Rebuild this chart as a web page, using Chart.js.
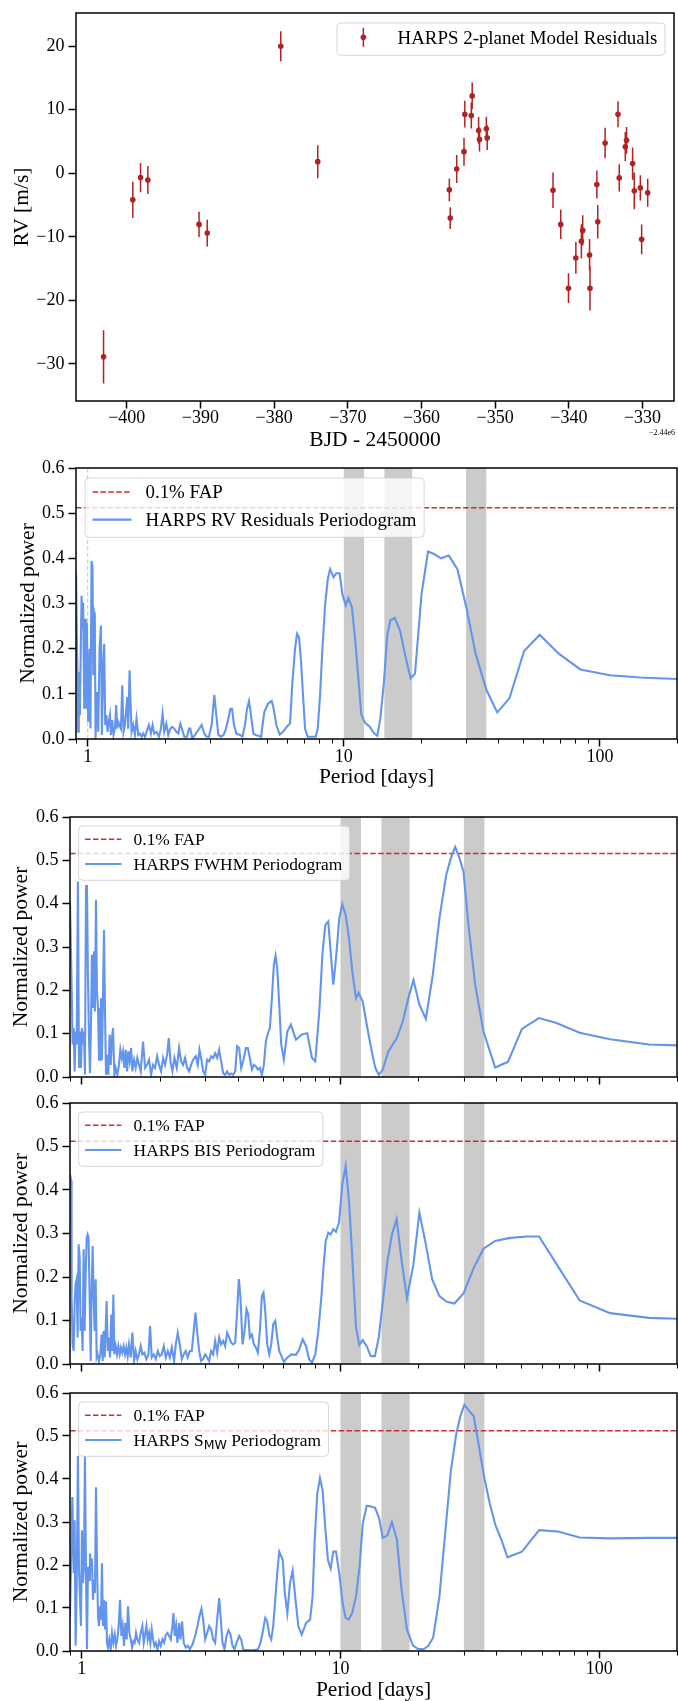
<!DOCTYPE html>
<html><head><meta charset="utf-8">
<script src="https://cdn.jsdelivr.net/npm/chart.js@4.4.0/dist/chart.umd.min.js"></script>
<style>
html,body{margin:0;padding:0;background:#fff;}
body{width:678px;height:1701px;position:relative;overflow:hidden;}
canvas{position:absolute;left:0;}
</style></head><body>
<canvas id="c1" width="678" height="460" style="top:0px;width:678px;height:460px"></canvas>
<canvas id="c2" width="678" height="335" style="top:455px;width:678px;height:335px"></canvas>
<canvas id="c3" width="678" height="290" style="top:800px;width:678px;height:290px"></canvas>
<canvas id="c4" width="678" height="290" style="top:1090px;width:678px;height:290px"></canvas>
<canvas id="c5" width="678" height="321" style="top:1380px;width:678px;height:321px"></canvas>
<script>
// ---------------- DATA ----------------
// Panel 1: HARPS 2-planet model residuals
const bjd = [-403.15,-399.18,-398.13,-397.14,-390.19,-389.08,-379.10,-374.08,-356.22,-356.10,-355.22,-354.23,-354.12,-353.24,-353.12,-352.25,-352.13,-351.20,-351.08,-342.15,-341.10,-340.05,-339.05,-338.30,-338.12,-337.19,-337.13,-336.20,-336.08,-335.08,-333.33,-333.16,-332.34,-332.17,-331.35,-331.12,-330.30,-330.12,-329.30];
const rvResid = [-28.9,-4.18,-0.68,-1.05,-8.05,-9.41,20.0,1.83,-2.61,-7.06,0.68,3.40,9.30,9.10,12.18,6.74,5.33,7.00,5.60,-2.67,-8.05,-18.09,-13.33,-10.72,-8.99,-12.86,-18.09,-1.78,-7.63,4.76,9.30,-0.73,4.18,5.18,1.52,-2.77,-2.30,-10.40,-3.08];
const rvErr = [4.2,2.85,2.3,2.2,2.0,2.1,2.35,2.6,1.8,1.7,2.2,2.2,2.1,2.05,2.1,2.1,1.9,1.9,1.95,2.8,2.3,2.35,2.5,2.7,2.4,2.5,3.5,2.2,2.65,2.4,2.05,2.15,2.3,2.1,2.55,2.9,2.0,2.35,2.2];
const bjdTicks = [-400,-390,-380,-370,-360,-350,-340,-330];
const bjdTickLabels = ['\u2212400','\u2212390','\u2212380','\u2212370','\u2212360','\u2212350','\u2212340','\u2212330'];
const rvTicks = [-30,-20,-10,0,10,20];
const rvTickLabels = ['\u221230','\u221220','\u221210','0','10','20'];
const bjdRange = [-406.89, -325.73];
const rvRange = [-35.85, 25.23];

// Periodogram common
const periodTicks = [1, 10, 100];
const periodTickLabels = ['1', '10', '100'];
const powerTicks = [0, 0.1, 0.2, 0.3, 0.4, 0.5, 0.6];
const powerTickLabels = ['0.0','0.1','0.2','0.3','0.4','0.5','0.6'];
const periodRange = [0.9, 200];
const activityBands = [[10, 12], [14.4, 18.5], [30, 36]];
const fapLevels = {rv: 0.512, fwhm: 0.516, bis: 0.512, smw: 0.512};

// RV residuals periodogram
const rvPeriod = [0.900,0.912,0.918,0.923,0.932,0.946,0.954,0.960,0.969,0.977,
0.983,0.992,0.998,1.004,1.016,1.025,1.035,1.044,1.051,1.060,
1.066,1.073,1.086,1.099,1.112,1.126,1.136,1.150,1.160,1.170,
1.184,1.195,1.209,1.221,1.231,1.246,1.261,1.277,1.292,1.304,
1.316,1.331,1.348,1.364,1.380,1.397,1.414,1.426,1.439,1.457,
1.470,1.483,1.505,1.528,1.551,1.575,1.599,1.623,1.647,1.673,
1.698,1.734,1.766,1.792,1.819,1.858,1.897,1.931,1.960,1.990,
2.027,2.063,2.101,2.139,2.178,2.218,2.258,2.299,2.341,2.383,
2.441,2.485,2.515,2.561,2.623,2.703,2.785,2.853,2.913,2.975,
3.047,3.121,3.178,3.236,3.314,3.395,3.467,3.540,3.605,3.659,
3.726,3.805,3.932,4.016,4.113,4.188,4.264,4.342,4.434,4.528,
4.638,4.750,4.895,5.074,5.228,5.323,5.452,5.619,5.790,5.985,
6.167,6.298,6.451,6.568,6.687,6.808,6.931,7.058,7.229,7.494,
7.769,7.910,8.078,8.249,8.449,8.656,8.841,9.12,9.34,9.63,
9.87,10.17,10.41,10.75,11.08,11.44,11.70,12.13,12.60,13.10,
13.52,13.89,14.33,14.78,15.20,15.80,16.56,17.41,18.24,18.97,
20.11,21.32,22.61,23.95,25.69,27.78,30.26,32.70,36.03,39.72,
44.33,50.58,58.18,69.08,83.9,109.3,143.6,200];
const rvPower = [0.368,0.134,0.016,0.148,0.053,0.317,0.244,0.302,0.067,0.266,
0.067,0.258,0.134,0.038,0.200,0.023,0.394,0.383,0.141,0.280,
0.273,0.001,0.104,0.016,0.200,0.251,0.009,0.170,0.211,0.031,
0.053,0.016,0.038,0.053,0.009,0.042,0.009,0.023,0.075,0.023,
0.038,0.031,0.023,0.119,0.016,0.031,0.067,0.093,0.023,0.152,
0.082,0.016,0.031,0.009,0.045,0.009,0.012,0.005,0.012,0.005,
0.016,0.031,0.012,0.031,0.012,0.016,0.005,0.023,0.056,0.016,
0.034,0.009,0.023,0.027,0.023,0.016,0.012,0.034,0.020,0.005,
0.005,0.023,0.023,0.001,0.009,0.020,0.031,0.012,0.005,0.005,
0.031,0.098,0.053,0.009,0.005,0.009,0.023,0.045,0.067,0.067,
0.031,0.012,0.009,0.005,0.031,0.067,0.084,0.053,0.012,0.009,
0.007,0.005,0.060,0.079,0.084,0.067,0.031,0.010,0.016,0.027,
0.034,0.126,0.200,0.233,0.225,0.170,0.097,0.023,0.005,0.005,
0.005,0.023,0.097,0.200,0.295,0.354,0.376,0.358,0.367,0.367,
0.321,0.296,0.312,0.292,0.219,0.123,0.054,0.035,0.028,0.013,
0.007,0.046,0.123,0.230,0.263,0.268,0.241,0.182,0.134,0.145,
0.321,0.415,0.409,0.400,0.406,0.376,0.285,0.189,0.109,0.059,
0.090,0.195,0.231,0.189,0.154,0.141,0.136,0.133];

// FWHM periodogram
const fwhmPeriod = [0.900,0.913,0.921,0.930,0.938,0.946,0.955,0.966,0.975,0.984,
0.992,1.001,1.010,1.019,1.028,1.038,1.047,1.056,1.066,1.075,
1.085,1.094,1.104,1.114,1.124,1.134,1.144,1.155,1.165,1.176,
1.186,1.196,1.207,1.218,1.229,1.240,1.255,1.266,1.281,1.293,
1.308,1.320,1.336,1.352,1.372,1.392,1.409,1.426,1.443,1.460,
1.478,1.496,1.513,1.531,1.550,1.568,1.592,1.615,1.639,1.664,
1.689,1.724,1.756,1.787,1.820,1.852,1.885,1.919,1.954,1.989,
2.025,2.061,2.098,2.136,2.168,2.200,2.240,2.280,2.328,2.377,
2.420,2.463,2.508,2.553,2.599,2.646,2.693,2.758,2.808,2.850,
2.892,2.944,2.997,3.051,3.106,3.162,3.219,3.277,3.336,3.396,
3.456,3.519,3.582,3.646,3.712,3.779,3.847,3.916,3.986,4.058,
4.131,4.218,4.306,4.384,4.463,4.543,4.625,4.708,4.792,4.879,
4.967,5.056,5.147,5.240,5.333,5.430,5.527,5.610,5.694,5.797,
5.900,6.04,6.23,6.43,6.73,7.08,7.44,7.76,7.99,8.28,
8.53,8.74,8.97,9.16,9.38,9.61,9.89,10.16,10.47,10.79,
11.11,11.48,11.76,12.19,12.70,13.21,13.64,14.06,14.57,15.31,
16.51,17.41,18.30,19.14,20.19,21.38,22.75,24.13,25.62,26.71,
27.76,28.84,29.89,31.25,33.17,35.72,39.64,44.40,50.30,58.5,
68.0,84.1,110.2,155.9,200];
const fwhmPower = [0.405,0.213,0.075,0.113,0.013,0.105,0.075,0.451,0.021,0.105,
0.021,0.113,0.075,0.105,0.005,0.443,0.428,0.228,0.090,0.009,
0.121,0.282,0.159,0.290,0.151,0.409,0.197,0.159,0.040,0.040,
0.182,0.040,0.182,0.339,0.151,0.005,0.051,0.005,0.098,0.028,
0.090,0.113,0.005,0.021,0.005,0.028,0.063,0.044,0.059,0.021,
0.063,0.013,0.059,0.036,0.067,0.013,0.040,0.021,0.044,0.028,
0.013,0.082,0.021,0.028,0.040,0.005,0.028,0.021,0.048,0.028,
0.013,0.044,0.028,0.051,0.090,0.036,0.013,0.044,0.021,0.067,
0.036,0.028,0.044,0.021,0.013,0.028,0.040,0.048,0.028,0.063,
0.044,0.013,0.005,0.040,0.036,0.048,0.044,0.055,0.044,0.063,
0.036,0.009,0.005,0.013,0.005,0.008,0.005,0.013,0.071,0.067,
0.021,0.040,0.067,0.067,0.044,0.017,0.028,0.025,0.017,0.021,
0.005,0.028,0.082,0.101,0.113,0.182,0.259,0.280,0.251,0.167,
0.075,0.040,0.105,0.121,0.086,0.098,0.101,0.044,0.036,0.151,
0.290,0.351,0.359,0.290,0.213,0.274,0.366,0.399,0.374,0.320,
0.243,0.182,0.194,0.174,0.113,0.059,0.021,0.005,0.017,0.059,
0.090,0.128,0.182,0.224,0.167,0.134,0.236,0.366,0.466,0.505,
0.531,0.505,0.474,0.351,0.213,0.105,0.022,0.035,0.111,0.136,
0.125,0.102,0.087,0.075,0.073];

// BIS periodogram
const bisPeriod = [0.900,0.910,0.913,0.921,0.930,0.938,0.946,0.955,0.963,0.972,
0.981,0.989,0.998,1.007,1.016,1.025,1.034,1.044,1.053,1.062,
1.072,1.082,1.091,1.101,1.111,1.121,1.131,1.141,1.151,1.165,
1.179,1.193,1.204,1.214,1.225,1.236,1.247,1.259,1.270,1.285,
1.300,1.312,1.324,1.336,1.352,1.368,1.384,1.401,1.417,1.434,
1.451,1.469,1.486,1.504,1.522,1.545,1.568,1.592,1.615,1.639,
1.664,1.689,1.714,1.745,1.777,1.809,1.836,1.863,1.897,1.931,
1.966,2.001,2.037,2.074,2.111,2.149,2.188,2.227,2.274,2.308,
2.349,2.391,2.434,2.478,2.522,2.568,2.614,2.661,2.708,2.750,
2.791,2.841,2.892,2.944,2.997,3.051,3.106,3.162,3.219,3.277,
3.336,3.396,3.456,3.519,3.582,3.646,3.712,3.779,3.847,3.916,
3.986,4.046,4.106,4.181,4.256,4.333,4.398,4.463,4.543,4.625,
4.708,4.792,4.879,4.967,5.041,5.117,5.209,5.303,5.398,5.495,
5.594,5.694,5.797,
6.04,6.23,6.47,6.73,6.93,7.14,7.36,7.56,7.76,7.99,
8.21,8.43,8.61,8.77,8.97,9.16,9.38,9.61,9.87,10.16,
10.47,10.79,11.11,11.48,11.82,12.19,12.63,13.09,13.58,14.06,
14.63,15.20,15.81,16.48,17.24,18.07,19.14,20.19,21.38,22.61,
24.13,25.78,27.56,29.89,32.75,35.72,39.64,45.3,52.6,58.6,
70.6,84.1,110.2,155.9,200];
const bisPower = [0.436,0.421,0.152,0.045,0.030,0.137,0.183,0.195,0.061,0.275,
0.244,0.076,0.107,0.030,0.264,0.076,0.198,0.290,0.298,0.290,
0.152,0.007,0.168,0.271,0.152,0.076,0.195,0.015,0.022,0.007,
0.022,0.068,0.007,0.076,0.015,0.076,0.145,0.030,0.061,0.015,
0.114,0.030,0.160,0.022,0.041,0.022,0.041,0.022,0.038,0.026,
0.041,0.022,0.038,0.018,0.045,0.015,0.072,0.007,0.030,0.011,
0.022,0.041,0.022,0.026,0.011,0.022,0.087,0.015,0.022,0.011,
0.030,0.018,0.022,0.041,0.015,0.030,0.015,0.038,0.007,0.045,
0.072,0.045,0.011,0.022,0.030,0.015,0.030,0.030,0.076,0.118,
0.076,0.030,0.007,0.011,0.022,0.015,0.007,0.030,0.022,0.053,
0.026,0.061,0.045,0.053,0.041,0.072,0.061,0.049,0.045,0.049,
0.122,0.195,0.152,0.045,0.076,0.126,0.114,0.061,0.068,0.045,
0.038,0.026,0.076,0.156,0.164,0.122,0.045,0.022,0.045,0.091,
0.099,0.061,0.030,
0.005,0.015,0.022,0.021,0.034,0.057,0.041,0.011,0.003,0.022,
0.076,0.152,0.229,0.283,0.302,0.298,0.310,0.304,0.325,0.413,
0.455,0.375,0.244,0.084,0.044,0.055,0.041,0.018,0.018,0.061,
0.152,0.237,0.298,0.333,0.237,0.151,0.229,0.348,0.275,0.195,
0.156,0.143,0.139,0.162,0.221,0.265,0.283,0.290,0.293,0.293,
0.217,0.146,0.117,0.106,0.104];

// S_MW periodogram
const smwPeriod = [0.900,0.919,0.930,0.938,0.946,0.955,0.966,0.975,0.984,0.992,
1.001,1.010,1.019,1.028,1.038,1.047,1.056,1.066,1.075,1.085,
1.094,1.104,1.114,1.124,1.134,1.144,1.155,1.165,1.176,1.186,
1.196,1.207,1.218,1.229,1.240,1.251,1.262,1.277,1.293,1.308,
1.324,1.340,1.356,1.372,1.388,1.405,1.422,1.439,1.456,1.473,
1.491,1.508,1.527,1.545,1.564,1.582,1.601,1.620,1.639,1.664,
1.689,1.714,1.735,1.756,1.777,1.798,1.820,1.841,1.863,1.885,
1.908,1.931,1.960,1.989,2.019,2.049,2.080,2.111,2.142,2.175,
2.207,2.240,2.260,2.287,2.315,2.342,2.377,2.406,2.441,2.478,
2.522,2.568,2.614,2.677,2.742,2.799,2.850,2.900,2.944,2.997,
3.051,3.106,3.162,3.219,3.277,3.336,3.396,3.446,3.498,3.561,
3.625,3.690,3.757,3.824,3.893,3.963,4.058,4.131,4.205,4.306,
4.410,4.516,4.652,4.792,4.907,5.025,5.117,5.209,5.303,5.398,
5.495,5.594,5.694,5.797,
5.98,6.09,6.23,6.38,6.53,6.68,6.87,7.08,7.36,7.63,
7.80,7.95,8.13,8.33,8.53,8.73,8.94,9.16,9.38,9.61,
9.89,10.19,10.47,10.76,11.09,11.48,11.85,12.19,12.63,13.09,
13.61,14.12,14.57,15.18,15.81,16.53,17.23,18.07,19.04,19.91,
20.94,21.86,22.82,24.13,25.46,26.71,28.02,29.06,30.13,31.37,
32.75,34.28,35.94,37.68,39.75,41.93,44.23,50.30,58.6,69.4,
84.1,110.2,155.9,200];
const smwPower = [0.081,0.358,0.181,0.304,0.012,0.150,0.454,0.188,0.119,0.058,
0.281,0.158,0.196,0.454,0.181,0.004,0.196,0.165,0.227,0.181,
0.215,0.119,0.165,0.135,0.381,0.212,0.081,0.058,0.104,0.073,
0.204,0.058,0.119,0.050,0.115,0.019,0.008,0.027,0.004,0.042,
0.019,0.038,0.012,0.027,0.058,0.119,0.035,0.058,0.012,0.065,
0.027,0.104,0.042,0.027,0.008,0.023,0.019,0.042,0.027,0.019,
0.042,0.058,0.019,0.038,0.058,0.027,0.042,0.019,0.050,0.027,
0.012,0.019,0.004,0.023,0.012,0.027,0.019,0.038,0.042,0.035,
0.027,0.058,0.088,0.035,0.058,0.019,0.065,0.027,0.069,0.019,
0.008,0.012,0.004,0.015,0.035,0.058,0.081,0.098,0.073,0.027,
0.042,0.058,0.050,0.027,0.019,0.073,0.123,0.073,0.019,0.004,
0.035,0.048,0.038,0.012,0.004,0.019,0.035,0.027,0.004,0.002,
0.002,0.002,0.002,0.004,0.019,0.050,0.077,0.069,0.038,0.027,
0.058,0.119,0.181,0.231,
0.212,0.135,0.088,0.158,0.187,0.127,0.058,0.038,0.065,0.073,
0.127,0.258,0.365,0.402,0.373,0.288,0.212,0.192,0.231,0.231,
0.181,0.112,0.077,0.073,0.088,0.127,0.196,0.296,0.338,0.336,
0.333,0.308,0.263,0.269,0.300,0.258,0.142,0.050,0.013,0.005,
0.004,0.012,0.031,0.127,0.281,0.419,0.504,0.546,0.573,0.559,
0.546,0.477,0.404,0.346,0.292,0.258,0.218,0.231,0.281,0.278,
0.264,0.262,0.263,0.263];

// ---------------- STYLE ----------------
const FONT = '"Liberation Serif", "Times New Roman", Times, serif';
const RED = '#b22222';
const FAP_RED = '#c9302c';
const BLUE = '#6495ed';
const BAND = '#cbcbcb';
const CURVE_W = 2.1;
const TICK_SIZE = 18, TITLE_SIZE = 21.5;
Chart.defaults.font.family = FONT;
Chart.defaults.color = '#000';

function roundRect(ctx, x, y, w, h, r) {
  ctx.beginPath();
  ctx.moveTo(x + r, y);
  ctx.lineTo(x + w - r, y); ctx.arcTo(x + w, y, x + w, y + r, r);
  ctx.lineTo(x + w, y + h - r); ctx.arcTo(x + w, y + h, x + w - r, y + h, r);
  ctx.lineTo(x + r, y + h); ctx.arcTo(x, y + h, x, y + h - r, r);
  ctx.lineTo(x, y + r); ctx.arcTo(x, y, x + r, y, r);
  ctx.closePath();
}

function framePlugin(minorLog, offsetText) {
  return {
    id: 'frame',
    afterDraw(chart) {
      const {ctx, chartArea: a} = chart;
      ctx.save();
      if (minorLog) {
        const xs = chart.scales.x;
        ctx.strokeStyle = '#000'; ctx.lineWidth = 1;
        for (const d of [0.1, 1, 10, 100]) {
          for (let m = 2; m <= 9; m++) {
            const v = m * d;
            if (v < xs.min - 1e-9 || v > xs.max + 1e-9) continue;
            const px = Math.round(xs.getPixelForValue(v)) + 0.5;
            ctx.beginPath(); ctx.moveTo(px, a.bottom); ctx.lineTo(px, a.bottom + 4.5); ctx.stroke();
          }
        }
      }
      ctx.strokeStyle = '#000'; ctx.lineWidth = 1.5;
      ctx.strokeRect(a.left, a.top, a.right - a.left, a.bottom - a.top);
      if (offsetText) {
        ctx.fillStyle = '#000'; ctx.font = '8px ' + FONT;
        ctx.textAlign = 'right'; ctx.textBaseline = 'middle';
        ctx.fillText(offsetText, a.right + 1, 433);
      }
      ctx.restore();
    }
  };
}

const bandsPlugin = {
  id: 'bands',
  beforeDatasetsDraw(chart) {
    const {ctx, chartArea: a, scales: {x}} = chart;
    ctx.save(); ctx.fillStyle = BAND;
    for (const [lo, hi] of activityBands) {
      const x0 = x.getPixelForValue(lo), x1 = x.getPixelForValue(hi);
      ctx.fillRect(x0, a.top, x1 - x0, a.bottom - a.top);
    }
    ctx.restore();
  }
};

function legendPlugin(spec) {
  return {
    id: 'mplLegend',
    afterDraw(chart) {
      const {ctx, chartArea: a} = chart;
      const fs = spec.fontSize;
      const mainFont = fs + 'px ' + FONT;
      const subFont = spec.subSize + 'px "DejaVu Sans", sans-serif';
      ctx.save();
      let maxW = 0;
      for (const row of spec.rows) {
        let w = 0;
        for (const seg of row.text) { ctx.font = seg.sub ? subFont : mainFont; w += ctx.measureText(seg.t).width; }
        maxW = Math.max(maxW, w);
      }
      const boxW = spec.textX + maxW + spec.padR;
      const x0 = spec.anchor === 'right' ? a.right - spec.dx - boxW : a.left + spec.dx;
      const y0 = a.top + spec.dy;
      roundRect(ctx, x0, y0, boxW, spec.h, 4);
      ctx.fillStyle = 'rgba(255,255,255,0.8)'; ctx.fill();
      ctx.strokeStyle = 'rgba(204,204,204,0.8)'; ctx.lineWidth = 1; ctx.stroke();
      for (const row of spec.rows) {
        const ry = y0 + row.dy;
        if (row.kind === 'dash') {
          ctx.strokeStyle = FAP_RED; ctx.lineWidth = 1.5; ctx.setLineDash([5.5, 2.4]);
          ctx.beginPath(); ctx.moveTo(x0 + spec.sample[0], ry); ctx.lineTo(x0 + spec.sample[1], ry); ctx.stroke();
          ctx.setLineDash([]);
        } else if (row.kind === 'line') {
          ctx.strokeStyle = BLUE; ctx.lineWidth = CURVE_W;
          ctx.beginPath(); ctx.moveTo(x0 + spec.sample[0], ry); ctx.lineTo(x0 + spec.sample[1], ry); ctx.stroke();
        } else if (row.kind === 'errpoint') {
          const mx = x0 + spec.markerX;
          ctx.strokeStyle = RED; ctx.lineWidth = 1.5;
          ctx.beginPath(); ctx.moveTo(mx, ry - 9.5); ctx.lineTo(mx, ry + 9.5); ctx.stroke();
          ctx.fillStyle = RED; ctx.beginPath(); ctx.arc(mx, ry, 2.8, 0, Math.PI * 2); ctx.fill();
        }
        let tx = x0 + spec.textX;
        ctx.fillStyle = '#000'; ctx.textBaseline = 'alphabetic'; ctx.textAlign = 'left';
        for (const seg of row.text) {
          ctx.font = seg.sub ? subFont : mainFont;
          ctx.fillText(seg.t, tx, ry + fs * 0.33 + (seg.sub ? spec.subDrop : 0));
          tx += ctx.measureText(seg.t).width;
        }
      }
      ctx.restore();
    }
  };
}

function tickGrid() {
  return {drawOnChartArea: false, drawTicks: true, tickLength: 7.5, tickWidth: 1.5, tickColor: '#000'};
}

// ---------------- PANEL 1 ----------------
const errSegments = [];
bjd.forEach((x, i) => {
  errSegments.push({x, y: rvResid[i] - rvErr[i]});
  errSegments.push({x, y: rvResid[i] + rvErr[i]});
  errSegments.push({x, y: null});
});

new Chart(document.getElementById('c1'), {
  type: 'scatter',
  data: {datasets: [
    {type: 'scatter', data: bjd.map((x, i) => ({x, y: rvResid[i]})), pointRadius: 2.8, backgroundColor: RED, borderColor: RED, borderWidth: 0, order: 1},
    {type: 'line', data: errSegments, borderColor: RED, borderWidth: 1.5, pointRadius: 0, spanGaps: false, order: 2}
  ]},
  options: {
    responsive: false, animation: false, devicePixelRatio: 1, events: [],
    layout: {padding: {left: 0, right: 1, top: 12, bottom: 0}},
    plugins: {legend: {display: false}, tooltip: {enabled: false}},
    scales: {
      x: {
        type: 'linear', min: bjdRange[0], max: bjdRange[1],
        afterBuildTicks: s => { s.ticks = bjdTicks.map(v => ({value: v})); },
        afterFit: s => { s.height = 59; },
        ticks: {callback: (v, i) => bjdTickLabels[i], font: {size: TICK_SIZE, lineHeight: 1}, color: '#000', padding: 0.5, autoSkip: false, maxRotation: 0},
        grid: tickGrid(), border: {display: false},
        title: {display: true, text: 'BJD - 2450000', font: {size: TITLE_SIZE, lineHeight: 1}, color: '#000', padding: {top: 0, bottom: 9.25}}
      },
      y: {
        type: 'linear', min: rvRange[0], max: rvRange[1],
        afterBuildTicks: s => { s.ticks = rvTicks.map(v => ({value: v})); },
        afterFit: s => { s.width = 76; },
        ticks: {callback: (v, i) => rvTickLabels[i], font: {size: TICK_SIZE, lineHeight: 1}, color: '#000', padding: 4, autoSkip: false},
        grid: tickGrid(), border: {display: false},
        title: {display: true, text: 'RV [m/s]', font: {size: TITLE_SIZE, lineHeight: 1}, color: '#000', padding: {top: 11.25, bottom: 0}}
      }
    }
  },
  plugins: [framePlugin(false, '\u22122.44e6'), legendPlugin({
    anchor: 'right', dx: 9, dy: 10, h: 32.3, fontSize: 18.9, subSize: 13, subDrop: 0,
    textX: 60.6, padR: 7.7, markerX: 26.4,
    rows: [{dy: 14.3, kind: 'errpoint', text: [{t: 'HARPS 2-planet Model Residuals'}]}]
  })]
});

// ---------------- PERIODOGRAMS ----------------
function makePeriodogram(id, p) {
  const datasets = [
    {type: 'line', data: p.periods.map((x, i) => ({x, y: p.powers[i]})), borderColor: BLUE, borderWidth: CURVE_W, pointRadius: 0, tension: 0, fill: false, order: 1},
    {type: 'line', data: [{x: periodRange[0], y: p.fap}, {x: periodRange[1], y: p.fap}], borderColor: FAP_RED, borderWidth: 1.5, borderDash: [5.5, 2.4], pointRadius: 0, order: 2}
  ];
  if (p.markPeriod) {
    datasets.push({type: 'line', data: [{x: p.markPeriod, y: 0}, {x: p.markPeriod, y: 0.6}], borderColor: '#a8d8a8', borderWidth: 1, borderDash: [4, 2.5], pointRadius: 0, order: 3});
  }
  new Chart(document.getElementById(id), {
    type: 'line',
    data: {datasets},
    options: {
      responsive: false, animation: false, devicePixelRatio: 1, events: [],
      layout: {padding: {left: 0, right: 1, top: p.padTop, bottom: 0}},
      plugins: {legend: {display: false}, tooltip: {enabled: false}},
      scales: {
        x: {
          type: 'logarithmic', min: periodRange[0], max: periodRange[1],
          afterBuildTicks: s => { s.ticks = periodTicks.map(v => ({value: v})); },
          afterFit: s => { s.height = p.xHeight; },
          ticks: {display: p.showX, callback: (v, i) => periodTickLabels[i], font: {size: TICK_SIZE, lineHeight: 1}, color: '#000', padding: 1.5, autoSkip: false, maxRotation: 0},
          grid: tickGrid(), border: {display: false},
          title: {display: p.showX, text: 'Period [days]', font: {size: TITLE_SIZE, lineHeight: 1}, color: '#000', padding: {top: 0, bottom: p.xTitlePad || 0}}
        },
        y: {
          type: 'linear', min: 0, max: 0.6,
          afterBuildTicks: s => { s.ticks = powerTicks.map(v => ({value: v})); },
          afterFit: s => { s.width = p.yWidth; },
          ticks: {callback: (v, i) => powerTickLabels[i], font: {size: TICK_SIZE, lineHeight: 1}, color: '#000', padding: 4, autoSkip: false},
          grid: tickGrid(), border: {display: false},
          title: {display: true, text: 'Normalized power', font: {size: TITLE_SIZE, lineHeight: 1}, color: '#000', padding: {top: p.yTitlePad, bottom: 0}}
        }
      }
    },
    plugins: [bandsPlugin, framePlugin(true, null), legendPlugin(p.legend)]
  });
}

function smallLegend(textSegs) {
  return {
    anchor: 'left', dx: 8.6, dy: 9, h: 54.3, fontSize: 17.4, subSize: 12.5, subDrop: 3,
    sample: [6.5, 42.8], textX: 55, padR: 7.5,
    rows: [{dy: 13.3, kind: 'dash', text: [{t: '0.1% FAP'}]}, {dy: 38, kind: 'line', text: textSegs}]
  };
}

makePeriodogram('c2', {
  periods: rvPeriod, powers: rvPower, fap: fapLevels.rv, markPeriod: 1,
  padTop: 12, xHeight: 51, yWidth: 76, showX: true, xTitlePad: 1.75, yTitlePad: 17.35,
  legend: {
    anchor: 'left', dx: 9.1, dy: 10, h: 59.3, fontSize: 18.9, subSize: 13, subDrop: 3,
    sample: [7.4, 46.4], textX: 60.4, padR: 7.8,
    rows: [{dy: 14, kind: 'dash', text: [{t: '0.1% FAP'}]}, {dy: 41.6, kind: 'line', text: [{t: 'HARPS RV Residuals Periodogram'}]}]
  }
});

makePeriodogram('c3', {
  periods: fwhmPeriod, powers: fwhmPower, fap: fapLevels.fwhm,
  padTop: 17, xHeight: 12, yWidth: 70, showX: false, yTitlePad: 10.85,
  legend: smallLegend([{t: 'HARPS FWHM Periodogram'}])
});

makePeriodogram('c4', {
  periods: bisPeriod, powers: bisPower, fap: fapLevels.bis,
  padTop: 13, xHeight: 16, yWidth: 70, showX: false, yTitlePad: 10.85,
  legend: smallLegend([{t: 'HARPS BIS Periodogram'}])
});

makePeriodogram('c5', {
  periods: smwPeriod, powers: smwPower, fap: fapLevels.smw,
  padTop: 11, xHeight: 50, yWidth: 70, showX: true, xTitlePad: 0.25, yTitlePad: 10.85,
  legend: smallLegend([{t: 'HARPS S'}, {t: 'MW', sub: true}, {t: ' Periodogram'}])
});
</script>
</body></html>
